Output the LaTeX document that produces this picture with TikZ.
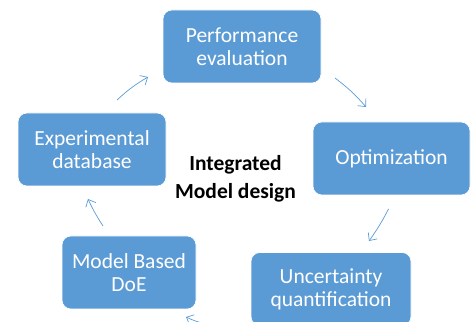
\documentclass[tikz,border=0pt]{standalone}
\usepackage{fontspec}
\setmainfont{Carlito}
\usetikzlibrary{arrows.meta}
\definecolor{boxblue}{HTML}{5B9BD5}
\begin{document}
\begin{tikzpicture}[x=1pt,y=1pt,
  box/.style={draw=white,line width=0.6pt,fill=boxblue,rounded corners=9pt,
    text=white,align=center,font=\fontsize{21.5}{23}\selectfont,inner sep=0pt},
  conn/.style={draw=boxblue,line width=0.7pt,
    -{Straight Barb[length=6pt,width=11pt,line width=0.7pt]}},
  center/.style={align=center,font=\fontsize{21.5}{28}\selectfont\bfseries,text=black}]
\useasboundingbox (0,0) rectangle (475,322);
\begin{scope}
\clip (0,0) rectangle (475,322);
\node[box,minimum width=158pt,minimum height=73pt] (perf) at (242,275.5) {Performance\\evaluation};
\node[box,minimum width=157pt,minimum height=73pt] (opt) at (391.5,163.5) {Optimization};
\node[box,minimum width=160pt,minimum height=73pt] (unc) at (331,33) {Uncertainty\\quantification};
\node[box,minimum width=134pt,minimum height=73pt] (mbd) at (129,49.5) {Model Based\\DoE};
\node[box,minimum width=148pt,minimum height=73pt] (exp) at (92,172.5) {Experimental\\database};
\node[center] (title) at (235.5,143) {Integrated\\Model design};
\coordinate (a1s) at (117,222);
\coordinate (a1e) at (148,245);
\coordinate (a2s) at (335,244);
\coordinate (a2e) at (366,215);
\coordinate (a3s) at (388.5,113);
\coordinate (a3e) at (369,81);
\coordinate (a4s) at (206,-2);
\coordinate (a4e) at (186,5);
\coordinate (a5s) at (103,96);
\coordinate (a5e) at (88,123);
\draw[conn] (a1s) to[bend left=6] (a1e);
\draw[conn] (a2s) to[bend left=6] (a2e);
\draw[conn] (a3s) to[bend left=4] (a3e);
\draw[conn] (a4s) to[bend left=6] (a4e);
\draw[conn] (a5s) to[bend left=4] (a5e);
\end{scope}
\end{tikzpicture}
\end{document}
